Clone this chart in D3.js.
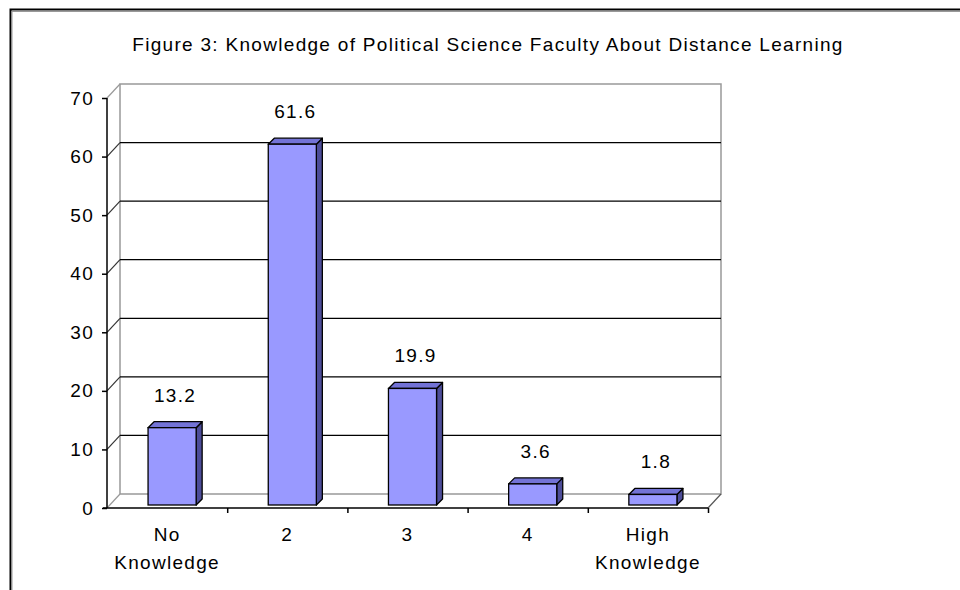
<!DOCTYPE html>
<html>
<head>
<meta charset="utf-8">
<script src="https://cdn.jsdelivr.net/npm/d3@7"></script>
<style>
  body { margin: 0; background: #fff; }
  text { font-family: "Liberation Sans", Arial, sans-serif; fill: #000; letter-spacing: 1.3px; }
</style>
</head>
<body>
<svg id="chart" width="960" height="590"></svg>
<script>
// Daten
const categories = [["No", "Knowledge"], ["2"], ["3"], ["4"], ["High", "Knowledge"]];
const values = [13.2, 61.6, 19.9, 3.6, 1.8];
const yTicks = [0, 10, 20, 30, 40, 50, 60, 70];
const title = "Figure 3: Knowledge of Political Science Faculty About Distance Learning";

const svg = d3.select("#chart");

// 3D-Versatz (vorne -> hinten)
const depthX = 13, depthY = -14;
const plotLeft = 107, plotRight = 708, plotBottom = 508, plotTop = 98;

const x = d3.scaleBand()
  .domain(d3.range(values.length))
  .range([plotLeft, plotRight])
  .paddingInner(0.6)
  .paddingOuter(0.3);

const xCat = d3.scaleBand()
  .domain(d3.range(values.length))
  .range([plotLeft, plotRight]);

const y = d3.scaleLinear().domain([0, 70]).range([plotBottom, plotTop]);

// Rahmen
svg.append("path")
  .attr("d", "M10.5,590 V9.5 H960")
  .attr("fill", "none").attr("stroke", "#000").attr("stroke-width", 2);
svg.append("path")
  .attr("d", "M12,590 V11.5 H960")
  .attr("fill", "none").attr("stroke", "#999").attr("stroke-width", 1);

// Titel
svg.append("text")
  .attr("x", 488).attr("y", 51)
  .attr("text-anchor", "middle")
  .style("font-size", "19px")
  .text(title);

const g = svg.append("g");

// Rückwand und Boden (grau)
const bx0 = plotLeft + depthX, bx1 = plotRight + depthX;
g.append("path")
  .attr("d", `M${bx0},${y(0) + depthY} V${y(70) + depthY} H${bx1} V${y(0) + depthY} H${bx0}`)
  .attr("fill", "none").attr("stroke", "#999").attr("stroke-width", 1.5);
g.append("line")
  .attr("x1", plotLeft).attr("y1", y(0)).attr("x2", bx0).attr("y2", y(0) + depthY)
  .attr("stroke", "#999").attr("stroke-width", 1.2);
g.append("line")
  .attr("x1", plotRight).attr("y1", y(0)).attr("x2", bx1).attr("y2", y(0) + depthY)
  .attr("stroke", "#555").attr("stroke-width", 1.2);
g.append("line")
  .attr("x1", plotLeft).attr("y1", y(70)).attr("x2", bx0).attr("y2", y(70) + depthY)
  .attr("stroke", "#999").attr("stroke-width", 1.2);

// Gitterlinien
yTicks.filter(d => d > 0 && d < 70).forEach(function(d) {
  g.append("line")
    .attr("x1", bx0).attr("x2", bx1)
    .attr("y1", y(d) + depthY).attr("y2", y(d) + depthY)
    .attr("stroke", "#000").attr("stroke-width", 1.3);
  g.append("line")
    .attr("x1", plotLeft).attr("y1", y(d)).attr("x2", bx0).attr("y2", y(d) + depthY)
    .attr("stroke", "#333").attr("stroke-width", 1.2);
});

// Achsen
const yAxis = d3.axisLeft(y).tickValues(yTicks).tickSize(5).tickPadding(8);
const ya = svg.append("g").attr("transform", `translate(${plotLeft},0)`).call(yAxis);
ya.select(".domain").attr("stroke", "#000").attr("stroke-width", 1.5).attr("d", `M0,${y(70)}V${y(0)}`);
ya.selectAll(".tick line").attr("stroke", "#000").attr("stroke-width", 1.5);
ya.selectAll(".tick text").style("font-size", "19px").style("font-family", "Liberation Sans, Arial");

const xAxis = d3.axisBottom(d3.scaleLinear().domain([0, 5]).range([plotLeft, plotRight]))
  .tickValues([1, 2, 3, 4, 5]).tickSize(5).tickFormat("");
const xa = svg.append("g").attr("transform", `translate(0,${plotBottom})`).call(xAxis);
xa.select(".domain").attr("stroke", "#000").attr("stroke-width", 1.5).attr("d", `M${plotLeft - 4},0H${plotRight}`);
xa.selectAll(".tick line").attr("stroke", "#000").attr("stroke-width", 1.5);

// Kategorienbeschriftung
categories.forEach(function(lines, i) {
  const cx = xCat(i) + xCat.bandwidth() / 2;
  const t = svg.append("text")
    .attr("x", cx)
    .attr("y", 541)
    .attr("text-anchor", "middle")
    .style("font-size", "19px");
  lines.forEach(function(l, j) {
    t.append("tspan")
      .attr("x", cx)
      .attr("dy", j === 0 ? 0 : 28)
      .text(l);
  });
});

// Säulen (3D)
const fx = 5, fy = -3;      // Vorderseite leicht nach hinten
const sx = 6, sy = -6;      // Tiefe der Säule
const bars = svg.append("g").selectAll("g.bar")
  .data(values)
  .enter().append("g").attr("class", "bar");

bars.each(function(v, i) {
  const b = d3.select(this);
  const x0 = x(i) + fx, x1 = x(i) + x.bandwidth() + fx;
  const y0 = y(v) + fy, y1 = y(0) + fy;
  // Seite
  b.append("path")
    .attr("d", `M${x1},${y1} L${x1 + sx},${y1 + sy} L${x1 + sx},${y0 + sy} L${x1},${y0} Z`)
    .attr("fill", "#4d4d99").attr("stroke", "#000").attr("stroke-width", 1.3).attr("stroke-linejoin", "round");
  // Deckel
  b.append("path")
    .attr("d", `M${x0},${y0} L${x0 + sx},${y0 + sy} L${x1 + sx},${y0 + sy} L${x1},${y0} Z`)
    .attr("fill", "#7373d6").attr("stroke", "#000").attr("stroke-width", 1.3).attr("stroke-linejoin", "round");
  // Front
  b.append("rect")
    .attr("x", x0).attr("y", y0)
    .attr("width", x1 - x0).attr("height", y1 - y0)
    .attr("fill", "#9999ff").attr("stroke", "#000").attr("stroke-width", 1.3);
  // Wertbeschriftung
  b.append("text")
    .attr("x", (x0 + x1) / 2 + 3)
    .attr("y", y0 + sy - 20)
    .attr("text-anchor", "middle")
    .style("font-size", "19px")
    .text(v.toFixed(1));
});
</script>
</body>
</html>
